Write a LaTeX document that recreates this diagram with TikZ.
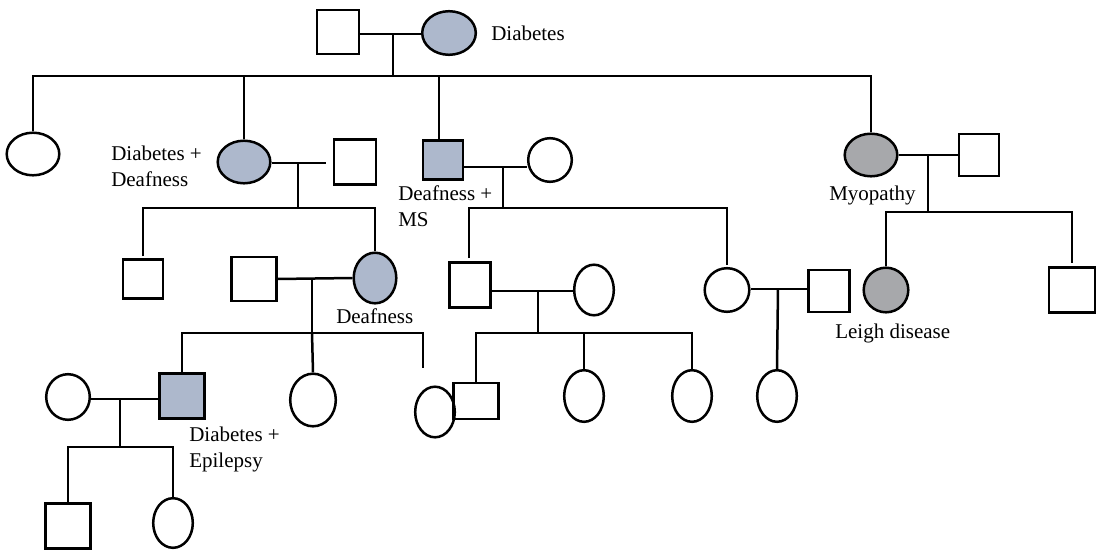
\documentclass[tikz,border=0pt]{standalone}
\usepackage{fontspec}
\setmainfont{Liberation Serif}
\usetikzlibrary{shapes.geometric}
\definecolor{affblue}{HTML}{ADB8CC}
\definecolor{affgray}{HTML}{A7A8AB}
\tikzset{
  person/.style={draw,inner sep=0pt,line width=2.5pt},
  male/.style={person,rectangle},
  female/.style={person,ellipse},
  affB/.style={fill=affblue},
  affG/.style={fill=affgray},
  lbl/.style={font=\fontsize{21}{26}\selectfont,inner sep=0pt,anchor=base west,align=left}
}
\begin{document}
\begin{tikzpicture}[x=1pt,y=-1pt,line width=2.5pt]
\useasboundingbox (0,0) rectangle (1103,551);

% generation I
\node[male,minimum width=41.6pt,minimum height=43.6pt] (gf) at (338,32) {};
\node[female,affB,minimum width=53.6pt,minimum height=43.6pt] (gm) at (449,33) {};
\node[lbl] (tgm) at (490,41) {Diabetes};
\coordinate (m0) at (393,34);
\coordinate (s0) at (393,76);
\draw (gf.east |- m0) -- (gm.west |- m0);
\draw (m0) -- (s0);

% generation II
\node[female,minimum width=52.6pt,minimum height=42.6pt] (c1) at (33,154) {};
\node[female,affB,minimum width=52.6pt,minimum height=42.6pt] (c2) at (244,162) {};
\node[male,minimum width=41.6pt,minimum height=44.6pt] (c2h) at (355,162) {};
\node[male,affB,minimum width=39.6pt,minimum height=38.6pt] (c3) at (443,160) {};
\node[female,minimum width=43.6pt,minimum height=43.6pt] (c3w) at (550,160) {};
\node[female,affG,minimum width=52.6pt,minimum height=42.6pt] (c4) at (871,155) {};
\node[male,minimum width=39.6pt,minimum height=41.6pt] (c4h) at (979,155) {};
\coordinate (s0c3) at (439,76);
\draw (c1.north) -- (c1.north |- s0) -- (c4.north |- s0) -- (c4.north);
\draw (c2.north |- s0) -- (c2.north);
\draw (s0c3) -- (s0c3 |- c3.north);

% two-line labels: the base anchor sits on the last line
\node[lbl] (tc2) at (110,186) {Diabetes +\\Deafness};
\node[lbl] (tc3) at (397,226) {Deafness +\\MS};
\node[lbl] (tc4) at (828,200) {Myopathy};

% marriages of generation II
\coordinate (m2) at (298,163);
\coordinate (s2) at (298,208);
\draw (c2.east |- m2) -- (326,163);
\draw (m2) -- (s2);
\coordinate (m3) at (503,167);
\coordinate (s3) at (503,208);
\draw (c3.east |- m3) -- (c3w.west |- m3);
\draw (m3) -- (s3);
\coordinate (m4) at (928,155);
\coordinate (s4) at (928,212);
\draw (c4.east) -- (c4h.west);
\draw (m4) -- (s4);

% generation III
\node[male,minimum width=39.6pt,minimum height=38.6pt] (d1) at (143,279) {};
\node[male,minimum width=44.6pt,minimum height=43.6pt] (d2h) at (254,279) {};
\node[female,affB,minimum width=42.6pt,minimum height=50.6pt] (d2) at (375,278) {};
\node[male,minimum width=40.6pt,minimum height=44.6pt] (d3) at (470,285) {};
\node[female,minimum width=39.6pt,minimum height=50.6pt] (d3w) at (594,290) {};
\node[female,minimum width=44.6pt,minimum height=43.6pt] (d4) at (727,290) {};
\node[male,minimum width=40.6pt,minimum height=41.6pt] (d4h) at (829,291) {};
\node[female,affG,minimum width=44.6pt,minimum height=44.6pt] (d5) at (886,290) {};
\node[male,minimum width=45.6pt,minimum height=44.6pt] (d6) at (1072,290) {};
\node[lbl] (td2) at (335,323) {Deafness};
\node[lbl] (td5) at (834,338) {Leigh disease};

\draw (143,256) -- (143,208) -- (d2.north |- s2) -- (d2.north);
\draw (469,258) -- (469,208) -- (d4.north |- s3) -- (727,265);
\draw (886,266) -- (886,212) -- (1072,212) -- (1072,263);

% marriages of generation III
\coordinate (m5) at (312,279);
\coordinate (s5) at (312,333);
\draw (d2h.east) -- (d2.west);
\draw (m5) -- (s5);
\coordinate (m6) at (538,291);
\coordinate (s6) at (538,333);
\draw (d3.east |- m6) -- (d3w.west |- m6);
\draw (m6) -- (s6);
\coordinate (m7) at (778,289);
\draw (d4.east |- m7) -- (d4h.west |- m7);

% generation IV
\node[male,affB,minimum width=44.6pt,minimum height=44.6pt] (f1) at (182,396) {};
\node[female,minimum width=43.6pt,minimum height=45.6pt] (f1w) at (68,397) {};
\node[female,minimum width=45.6pt,minimum height=52.6pt] (f2) at (313,400) {};
\node[female,minimum width=39.6pt,minimum height=50.6pt] (f3) at (435,412) {};
\node[male,minimum width=44.6pt,minimum height=35.6pt] (f4) at (476,401) {};
\node[female,minimum width=39.6pt,minimum height=51.6pt] (f5) at (584,396) {};
\node[female,minimum width=39.6pt,minimum height=51.6pt] (f6) at (692,396) {};
\node[female,minimum width=39.6pt,minimum height=51.6pt] (f7) at (777,396) {};
\node[lbl] (tf1) at (188,467) {Diabetes +\\Epilepsy};

\draw (f1.north) -- (f1.north |- s5) -- (423,333) -- (423,368);
\draw (312,333) -- (f2.north);
\draw (f4.north) -- (f4.north |- s6) -- (f6.north |- s6) -- (f6.north);
\draw (f5.north |- s6) -- (f5.north);
\draw (m7) -- (f7.north);

% marriage of generation IV
\coordinate (m8) at (120,399);
\coordinate (s8) at (120,447);
\draw (f1w.east |- m8) -- (f1.west |- m8);
\draw (m8) -- (s8);

% generation V
\node[male,minimum width=44.6pt,minimum height=44.6pt] (g1) at (68,526) {};
\node[female,minimum width=39.6pt,minimum height=49.6pt] (g2) at (173,523) {};
\draw (68,503) -- (68,447) -- (173,447) -- (g2.north);
\end{tikzpicture}
\end{document}
